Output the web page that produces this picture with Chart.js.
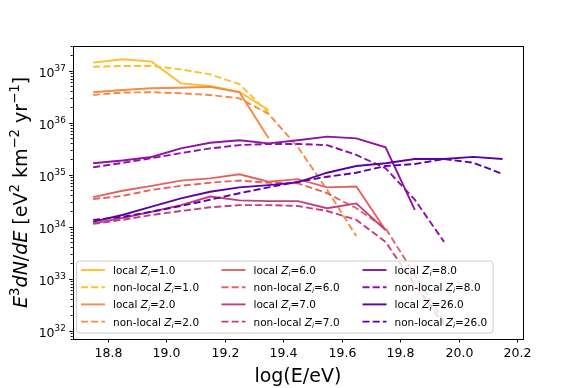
<!DOCTYPE html>
<html>
<head>
<meta charset="utf-8">
<script src="https://cdn.jsdelivr.net/npm/chart.js@4"></script>
<style>
  html, body { margin: 0; padding: 0; background: #fff; }
</style>
</head>
<body>
<canvas id="spectrum" width="582" height="388"></canvas>
<script>
// energy bins, log10(E/eV)
const energies = [18.75, 18.85, 18.95, 19.05, 19.15, 19.25, 19.35, 19.45, 19.55, 19.65, 19.75, 19.85, 19.95, 20.05, 20.15];
const xTicks = [18.8, 19.0, 19.2, 19.4, 19.6, 19.8, 20.0, 20.2];
const yDecades = [32, 33, 34, 35, 36, 37];

// E^3 dN/dE (each series starts at 18.75)
const localZ1 = [1.43e37, 1.66e37, 1.49e37, 5.7e36, 5.1e36, 3.9e36, 1.75e36];
const nonlocalZ1 = [1.19e37, 1.23e37, 1.23e37, 1.06e37, 8.5e36, 5.5e36, 1.54e36];
const localZ2 = [3.85e36, 4.26e36, 4.6e36, 4.7e36, 4.9e36, 3.85e36, 5.0e35];
const nonlocalZ2 = [3.4e36, 3.8e36, 3.85e36, 3.67e36, 3.4e36, 2.94e36, 1.47e36, 3.4e35, 5.1e34, 6.6e33];
const localZ6 = [3.7e34, 4.9e34, 6.1e34, 7.7e34, 8.5e34, 1.02e35, 7.3e34, 8.2e34, 5.7e34, 5.9e34, 8.6e33];
const nonlocalZ6 = [3.4e34, 3.9e34, 5.1e34, 6.1e34, 7.0e34, 7.7e34, 7.0e34, 6.8e34, 4.4e34, 2.26e34, 9.3e33, 1.2e33, 1.5e32];
const localZ7 = [1.16e34, 1.47e34, 1.94e34, 2.6e34, 3.8e34, 3.2e34, 3.1e34, 3.1e34, 2.26e34, 2.8e34, 8.6e33];
const nonlocalZ7 = [1.13e34, 1.35e34, 1.68e34, 2.0e34, 2.36e34, 2.6e34, 2.6e34, 2.5e34, 2.0e34, 1.35e34, 5.1e33, 7.6e32, 1.3e32];
const localZ8 = [1.66e35, 1.87e35, 2.19e35, 3.2e35, 4.1e35, 4.6e35, 4.0e35, 4.6e35, 5.4e35, 5.0e35, 3.37e35, 2.1e34];
const nonlocalZ8 = [1.39e35, 1.68e35, 2.07e35, 2.6e35, 3.2e35, 3.7e35, 3.9e35, 3.9e35, 3.7e35, 2.4e35, 1.33e35, 3.3e34, 5.1e33];
const localZ26 = [1.25e34, 1.68e34, 2.43e34, 3.5e34, 4.7e34, 5.7e34, 6.3e34, 7.1e34, 1.09e35, 1.47e35, 1.66e35, 2.0e35, 2.0e35, 2.2e35, 2.0e35];
const nonlocalZ26 = [1.35e34, 1.54e34, 1.94e34, 2.5e34, 3.3e34, 4.4e34, 5.7e34, 7.3e34, 9.1e34, 1.09e35, 1.47e35, 1.6e35, 2.0e35, 1.7e35, 1.03e35];

const charges = ['1.0', '2.0', '6.0', '7.0', '8.0', '26.0'];
const localSeries = [localZ1, localZ2, localZ6, localZ7, localZ8, localZ26];
const nonlocalSeries = [nonlocalZ1, nonlocalZ2, nonlocalZ6, nonlocalZ7, nonlocalZ8, nonlocalZ26];
const colors = ['#fdbf2c', '#f58c46', '#e16462', '#c43e7f', '#9012a3', '#5c01a6'];

const FONT = '"DejaVu Sans", sans-serif';
const dash = [7, 3.2];

const datasets = [];
charges.forEach((z, i) => {
  [[localSeries[i], 'local', []], [nonlocalSeries[i], 'non-local', dash]].forEach(([vals, kind, bd]) => {
    datasets.push({
      label: kind + ' Z_i=' + z,
      data: vals.map((v, k) => ({ x: energies[k], y: v })),
      borderColor: colors[i],
      borderWidth: 1.9,
      borderDash: bd,
      pointRadius: 0,
      tension: 0,
      fill: false,
      order: -datasets.length
    });
  });
});

// draw text runs with italic / super / subscript pieces
function runWidth(ctx, parts, size) {
  let w = 0;
  parts.forEach(p => {
    const s = (p.sup || p.sub) ? size * 0.7 : size;
    ctx.font = (p.it ? 'italic ' : '') + s + 'px ' + FONT;
    w += ctx.measureText(p.t).width;
  });
  return w;
}
function drawRun(ctx, parts, x, y, size) {
  ctx.textBaseline = 'alphabetic';
  ctx.textAlign = 'left';
  parts.forEach(p => {
    const s = (p.sup || p.sub) ? size * 0.7 : size;
    ctx.font = (p.it ? 'italic ' : '') + s + 'px ' + FONT;
    let dy = 0;
    if (p.sup) dy = -size * 0.42;
    if (p.sub) dy = size * 0.2;
    ctx.fillText(p.t, x, y + dy);
    x += ctx.measureText(p.t).width;
  });
}

const decor = {
  id: 'decor',
  afterDatasetsDraw(chart) {
    const { ctx, chartArea: a, scales: { x, y } } = chart;
    ctx.save();
    ctx.fillStyle = '#000';
    ctx.strokeStyle = '#000';
    ctx.lineWidth = 1;

    // x ticks
    ctx.font = '12.5px ' + FONT;
    xTicks.forEach(v => {
      const px = Math.round(x.getPixelForValue(v)) + 0.5;
      ctx.beginPath(); ctx.moveTo(px, a.bottom); ctx.lineTo(px, a.bottom + 3.5); ctx.stroke();
      ctx.textAlign = 'center'; ctx.textBaseline = 'top';
      ctx.fillText(v.toFixed(1), px, a.bottom + 8);
    });

    // y ticks, major and minor
    for (let d = 31; d <= 37; d++) {
      for (let m = 1; m <= 9; m++) {
        const v = m * Math.pow(10, d);
        if (v < y.min || v > y.max) continue;
        const py = Math.round(y.getPixelForValue(v)) + 0.5;
        const len = m === 1 ? 3.5 : 2;
        ctx.beginPath(); ctx.moveTo(a.left, py); ctx.lineTo(a.left - len, py); ctx.stroke();
      }
    }
    yDecades.forEach(d => {
      const py = y.getPixelForValue(Math.pow(10, d));
      const parts = [{ t: '10' }, { t: String(d), sup: true }];
      const w = runWidth(ctx, parts, 12.5);
      drawRun(ctx, parts, a.left - 7 - w, py + 6, 12.5);
    });

    // legend box
    const lx = 76.5, ly = 261, lw = 416.5, lh = 72;
    ctx.fillStyle = 'rgba(255,255,255,0.8)';
    ctx.strokeStyle = '#cccccc';
    ctx.beginPath();
    ctx.roundRect(lx, ly, lw, lh, 3);
    ctx.fill(); ctx.stroke();
    const colX = [81, 221.5, 362.5];
    const rowY = [270, 287.2, 304.4, 321.6];
    datasets.forEach((ds, k) => {
      const col = Math.floor(k / 4), row = k % 4;
      const cx = colX[col], cy = rowY[row];
      ctx.strokeStyle = ds.borderColor;
      ctx.lineWidth = 1.9;
      ctx.setLineDash(ds.borderDash);
      ctx.beginPath(); ctx.moveTo(cx, cy); ctx.lineTo(cx + 24, cy); ctx.stroke();
      ctx.setLineDash([]);
      const [kind, z] = ds.label.split(' Z_i=');
      ctx.fillStyle = '#000';
      drawRun(ctx, [{ t: kind + ' ' }, { t: 'Z', it: true }, { t: 'i', it: true, sub: true }, { t: '=' + z }], cx + 32, cy + 4, 10.5);
    });

    // frame
    ctx.strokeStyle = '#000';
    ctx.lineWidth = 1;
    ctx.strokeRect(Math.round(a.left) + 0.5, Math.round(a.top) + 0.5, Math.round(a.right - a.left), Math.round(a.bottom - a.top));

    // axis titles
    ctx.fillStyle = '#000';
    ctx.font = '19px ' + FONT;
    ctx.textAlign = 'center'; ctx.textBaseline = 'alphabetic';
    ctx.fillText('log(E/eV)', (a.left + a.right) / 2, 382);

    const yl = [
      { t: 'E', it: true }, { t: '3', sup: true }, { t: 'dN', it: true }, { t: '/' }, { t: 'dE', it: true },
      { t: ' [eV' }, { t: '2', sup: true }, { t: ' km' }, { t: '\u22122', sup: true },
      { t: ' yr' }, { t: '\u22121', sup: true }, { t: ']' }
    ];
    const ylw = runWidth(ctx, yl, 19);
    ctx.translate(27, (a.top + a.bottom) / 2);
    ctx.rotate(-Math.PI / 2);
    drawRun(ctx, yl, -ylw / 2, 0, 19);
    ctx.restore();
  }
};

new Chart(document.getElementById('spectrum'), {
  type: 'line',
  data: { datasets },
  options: {
    responsive: false,
    animation: false,
    devicePixelRatio: 1,
    layout: { padding: { left: 72.7, top: 45.7, right: 59, bottom: 49 } },
    plugins: { legend: { display: false }, tooltip: { enabled: false } },
    scales: {
      x: { type: 'linear', min: 18.68, max: 20.22, display: false },
      y: { type: 'logarithmic', min: Math.pow(10, 31.84), max: Math.pow(10, 37.48), display: false }
    }
  },
  plugins: [decor]
});
</script>
</body>
</html>
